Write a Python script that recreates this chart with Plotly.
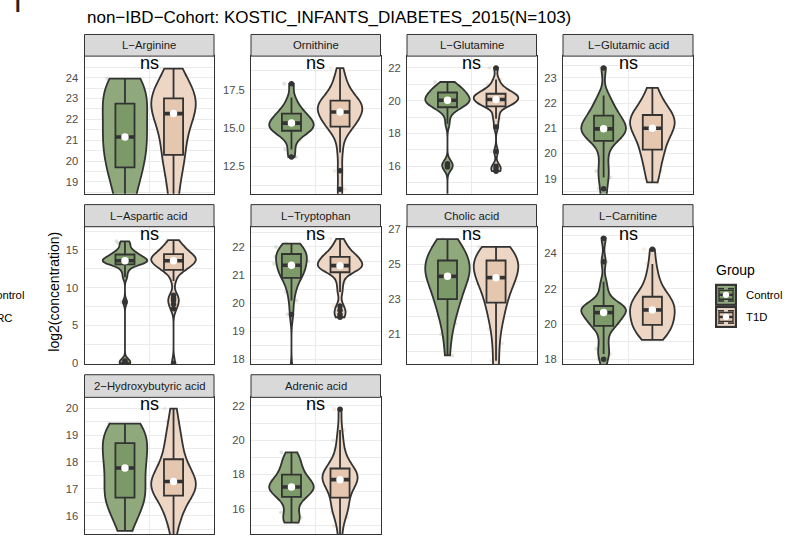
import numpy as np
import plotly.graph_objects as go

# ---------------------------------------------------------------- data
metabolites = ["L−Arginine", "Ornithine", "L−Glutamine", "L−Glutamic acid",
               "L−Aspartic acid", "L−Tryptophan", "Cholic acid", "L−Carnitine",
               "2−Hydroxybutyric acid", "Adrenic acid"]
groups = ["Control", "T1D"]
p_labels = ["ns"] * 10

control_arginine = [16.6, 17.3, 17.9, 18.4, 18.8, 19.2, 19.5, 19.7, 19.8, 20.0, 20.3, 20.6, 20.9,
                    21.05, 21.1, 21.2, 21.4, 21.7, 22.0, 22.3, 22.55, 22.6, 22.75, 23.1, 23.3,
                    23.45, 23.6, 23.7, 23.85, 23.95]
t1d_arginine = [16.5, 17.4, 18.2, 18.9, 19.4, 19.8, 20.1, 20.3, 20.5, 20.8, 21.1, 21.4, 21.7,
                21.95, 22.2, 22.35, 22.45, 22.55, 22.65, 22.75, 22.85, 22.9, 23.0, 23.1, 23.25,
                23.4, 23.6, 23.85, 24.1, 24.43]

control_ornithine = [13.1, 13.6, 14.2, 14.5, 14.7, 14.8, 14.85, 14.9, 15.0, 15.1, 15.2, 15.3,
                     15.35, 15.4, 15.5, 15.6, 15.7, 15.9, 16.0, 16.1, 16.3, 16.6, 17.0, 17.9]
t1d_ornithine = [8.5, 9.8, 11.0, 12.2, 13.4, 14.3, 14.8, 15.1, 15.2, 15.3, 15.4, 15.6, 15.8, 15.9,
                 16.0, 16.1, 16.2, 16.3, 16.4, 16.5, 16.6, 16.7, 16.8, 16.9, 17.1, 17.3, 17.6,
                 17.9, 18.3, 18.93]

control_glutamine = [13.5, 15.95, 16.05, 16.15, 18.6, 19.2, 19.45, 19.6, 19.65, 19.7, 19.8, 19.85,
                     19.9, 19.95, 20.0, 20.05, 20.1, 20.15, 20.2, 20.3, 20.35, 20.4, 20.5, 20.55,
                     20.6, 20.7, 20.8, 20.9, 21.0, 21.14]
t1d_glutamine = [15.7, 15.85, 16.0, 16.9, 18.4, 18.9, 19.2, 19.6, 19.7, 19.75, 19.8, 19.85, 19.9,
                 19.95, 20.0, 20.05, 20.1, 20.15, 20.2, 20.25, 20.3, 20.3, 20.35, 20.4, 20.45,
                 20.5, 20.6, 20.7, 20.8, 21.0, 21.3, 22.0]

control_glutamic = [18.0, 18.6, 19.05, 19.3, 19.7, 20.1, 20.5, 20.6, 20.65, 20.7, 20.8, 20.9, 20.95,
                    21.0, 21.05, 21.1, 21.2, 21.3, 21.4, 21.5, 21.6, 21.7, 21.9, 22.1, 22.3, 23.39]
t1d_glutamic = [18.85, 19.0, 19.3, 19.6, 19.8, 20.0, 20.1, 20.2, 20.4, 20.6, 20.75, 20.85, 20.95,
                21.0, 21.0, 21.1, 21.2, 21.3, 21.4, 21.45, 21.5, 21.55, 21.6, 21.7, 21.9, 22.1,
                22.35, 22.6]

control_aspartic = [0.0, 0.1, 0.3, 8.1, 11.4, 12.2, 12.7, 13.1, 13.15, 13.2, 13.3, 13.4, 13.45,
                    13.5, 13.55, 13.6, 13.7, 13.8, 13.9, 14.0, 14.1, 14.2, 14.4, 14.5, 14.6, 14.8,
                    15.1, 15.5, 15.9, 16.15]
t1d_aspartic = [0.0, 7.2, 7.8, 8.3, 8.6, 9.0, 10.9, 11.8, 12.3, 12.4, 12.6, 12.8, 12.9, 13.0, 13.1,
                13.2, 13.4, 13.55, 13.6, 13.7, 13.8, 13.85, 13.9, 14.0, 14.1, 14.2, 14.4, 14.5,
                14.6, 14.8, 15.0, 15.2, 15.4, 15.7, 16.0, 16.3]

control_tryptophan = [17.5, 19.6, 20.1, 20.4, 20.6, 20.8, 20.9, 21.0, 21.05, 21.1, 21.2, 21.25,
                      21.3, 21.4, 21.45, 21.5, 21.6, 21.65, 21.7, 21.75, 21.8, 21.85, 21.9, 22.0,
                      22.05, 22.12]
t1d_tryptophan = [19.5, 19.6, 19.75, 19.9, 20.4, 20.7, 20.95, 21.1, 21.15, 21.2, 21.25, 21.28,
                  21.3, 21.3, 21.32, 21.35, 21.4, 21.45, 21.5, 21.55, 21.6, 21.6, 21.65, 21.7,
                  21.75, 21.8, 21.9, 22.0, 22.1, 22.29]

control_cholic = [19.8, 21.0, 21.6, 22.1, 22.5, 22.8, 23.0, 23.2, 23.5, 23.8, 24.0, 24.15, 24.25,
                  24.35, 24.5, 24.7, 24.9, 25.0, 25.1, 25.2, 25.4, 25.6, 25.8, 26.0, 26.2, 26.41]
t1d_cholic = [18.5, 19.5, 20.5, 21.3, 21.8, 22.2, 22.5, 22.8, 23.0, 23.3, 23.6, 23.8, 24.0, 24.1,
              24.2, 24.25, 24.4, 24.6, 24.8, 24.9, 25.0, 25.1, 25.2, 25.3, 25.4, 25.5, 25.6,
              25.75, 25.85, 25.98]

control_carnitine = [17.3, 18.0, 18.3, 18.6, 19.0, 19.4, 19.8, 20.0, 20.0, 20.1, 20.2, 20.35, 20.5,
                     20.6, 20.7, 20.75, 20.8, 20.85, 20.9, 20.95, 21.0, 21.05, 21.2, 21.5, 21.9,
                     22.4, 23.54, 24.87]
t1d_carnitine = [19.1, 19.15, 19.3, 19.5, 19.7, 19.8, 19.9, 19.95, 20.0, 20.2, 20.3, 20.45, 20.55,
                 20.65, 20.75, 20.85, 20.95, 21.05, 21.15, 21.25, 21.35, 21.45, 21.55, 21.7, 21.9,
                 22.2, 22.5, 22.9, 23.4, 24.24]

control_hydroxybutyric = [15.44, 15.8, 16.1, 16.4, 16.55, 16.65, 16.7, 16.9, 17.1, 17.3, 17.5, 17.7,
                          17.85, 18.0, 18.2, 18.35, 18.5, 18.6, 18.8, 19.0, 19.15, 19.25, 19.35,
                          19.42]
t1d_hydroxybutyric = [14.8, 15.6, 15.9, 16.1, 16.3, 16.5, 16.65, 16.75, 16.85, 16.95, 17.0, 17.05,
                      17.1, 17.15, 17.25, 17.3, 17.4, 17.5, 17.6, 17.7, 17.8, 17.9, 18.1, 18.3,
                      18.5, 18.7, 18.9, 19.2, 19.5, 19.98]

control_adrenic = [15.2, 15.3, 15.5, 15.8, 16.3, 16.6, 16.8, 16.9, 17.0, 17.1, 17.2, 17.25, 17.3,
                   17.4, 17.5, 17.6, 17.75, 17.9, 18.1, 18.3, 18.5, 18.8, 19.0, 19.29]
t1d_adrenic = [14.2, 15.0, 15.5, 15.8, 16.0, 16.1, 16.2, 16.6, 16.7, 16.9, 17.1, 17.3, 17.45,
               17.55, 17.6, 17.68, 17.72, 17.8, 17.9, 17.95, 18.0, 18.1, 18.2, 18.3, 18.4, 18.6,
               18.8, 19.1, 19.5, 20.0, 20.6, 21.81]

control_values = [control_arginine, control_ornithine, control_glutamine, control_glutamic,
                  control_aspartic, control_tryptophan, control_cholic, control_carnitine,
                  control_hydroxybutyric, control_adrenic]
t1d_values = [t1d_arginine, t1d_ornithine, t1d_glutamine, t1d_glutamic, t1d_aspartic,
              t1d_tryptophan, t1d_cholic, t1d_carnitine, t1d_hydroxybutyric, t1d_adrenic]

# y-axis tick values of each facet
y_ticks = [[19, 20, 21, 22, 23, 24], [12.5, 15.0, 17.5], [16, 18, 20, 22], [19, 20, 21, 22, 23],
           [0, 5, 10, 15], [18, 19, 20, 21, 22], [21, 23, 25, 27], [18, 20, 22, 24],
           [16, 17, 18, 19, 20], [16, 18, 20, 22]]
y_tick_text = [["19", "20", "21", "22", "23", "24"], ["12.5", "15.0", "17.5"],
               ["16", "18", "20", "22"], ["19", "20", "21", "22", "23"],
               ["0", "5", "10", "15"], ["18", "19", "20", "21", "22"],
               ["21", "23", "25", "27"], ["18", "20", "22", "24"],
               ["16", "17", "18", "19", "20"], ["16", "18", "20", "22"]]

# ---------------------------------------------------------------- layout settings
W, H = 797, 541
y_limits = [(18.43, 25.03), (10.70, 19.71), (14.32, 22.72), (18.40, 23.86), (-0.1, 18.08),
            (17.84, 22.72), (19.32, 27.12), (17.74, 25.52), (15.32, 20.40), (14.53, 22.50)]
# facets whose two violins share one density scale (otherwise each fills the slot width)
shared_scale = [False, False, False, False, False, True, False, False, False, True]
col_px = [(84.5, 214.0), (251.0, 380.5), (407.0, 536.5), (563.0, 693.0)]
row_px = [(31.0, 53.0, 193.0), (204.0, 226.5, 366.0), (377.0, 400.0, 539.0)]

FONT = "Liberation Sans, Arial, Helvetica, sans-serif"
DARK = "#333333"
GRID = "#ebebeb"
violin_fill = {"Control": "#8fa97c", "T1D": "#edd6c4"}
box_fill = {"Control": "#7c9a67", "T1D": "#e5c6ae"}
faint = {"Control": "rgba(110,140,95,0.22)", "T1D": "rgba(215,175,145,0.25)"}
x_pos = {"Control": 0.775, "T1D": 1.225}
VIOLIN_GAP = 0.085          # full violin width = 0.45 * (1 - gap)
BOX_FRAC = 0.43
BOX_HALF = 0.45 * (1 - VIOLIN_GAP) * BOX_FRAC / 2


def px_x(px):
    return px / W


def px_y(py):
    return 1 - py / H


def nrd0(v):
    v = np.asarray(v, dtype=float)
    q75, q25 = np.percentile(v, [75, 25])
    lo = min(np.std(v, ddof=1), (q75 - q25) / 1.34)
    if lo <= 0:
        lo = np.std(v, ddof=1)
    return float(0.9 * lo * len(v) ** -0.2)


fig = go.Figure()
layout_axes = {}
shapes = []
annotations = []

for i, name in enumerate(metabolites):
    r, c = divmod(i, 4)
    left, right = col_px[c]
    strip_top, top, bottom = row_px[r]
    xr = "x" if i == 0 else f"x{i + 1}"
    yr = "y" if i == 0 else f"y{i + 1}"
    xkey = "xaxis" if i == 0 else f"xaxis{i + 1}"
    ykey = "yaxis" if i == 0 else f"yaxis{i + 1}"

    series = {"Control": control_values[i], "T1D": t1d_values[i]}

    # faint jittered sample points
    for g in groups:
        fig.add_trace(go.Violin(
            y=series[g], x0=x_pos[g], xaxis=xr, yaxis=yr, name=f"pts-{i}-{g}",
            scalegroup=f"pts-{i}-{g}", spanmode="hard", points="all", jitter=0.85,
            pointpos=0, fillcolor="rgba(0,0,0,0)",
            line=dict(width=0, color="rgba(0,0,0,0)"),
            marker=dict(color=faint[g], size=4, line=dict(width=0)),
            box=dict(visible=False), meanline=dict(visible=False),
            hoverinfo="skip", showlegend=False))

    # violins with inner boxplots and outliers
    for g in groups:
        vals = series[g]
        group_id = f"panel{i}" if shared_scale[i] else f"v-{i}-{g}"
        fig.add_trace(go.Violin(
            y=vals, x0=x_pos[g], xaxis=xr, yaxis=yr, name=g,
            scalegroup=group_id, scalemode="width", spanmode="hard",
            bandwidth=nrd0(vals), side="both",
            fillcolor=violin_fill[g], line=dict(color=DARK, width=1.8),
            box=dict(visible=True, width=BOX_FRAC, fillcolor=box_fill[g],
                     line=dict(color=DARK, width=1.8)),
            meanline=dict(visible=False),
            points="outliers", pointpos=0, jitter=0,
            marker=dict(color=DARK, size=5.5, line=dict(width=0)),
            hoverinfo="skip", showlegend=False))

    # thick median bars and white median points
    mx, my = [], []
    for g in groups:
        m = float(np.median(series[g]))
        mx += [x_pos[g] - BOX_HALF, x_pos[g] + BOX_HALF, None]
        my += [m, m, None]
    fig.add_trace(go.Scatter(x=mx, y=my, xaxis=xr, yaxis=yr, mode="lines",
                             line=dict(color=DARK, width=3.6), hoverinfo="skip",
                             showlegend=False))
    fig.add_trace(go.Scatter(x=[x_pos[g] for g in groups],
                             y=[float(np.median(series[g])) for g in groups],
                             xaxis=xr, yaxis=yr, mode="markers",
                             marker=dict(color="white", size=7.5, line=dict(width=0)),
                             hoverinfo="skip", showlegend=False))

    ticks = y_ticks[i]
    step = ticks[1] - ticks[0]
    layout_axes[xkey] = dict(
        domain=[px_x(left), px_x(right)], anchor=yr, range=[0.4, 1.6],
        tickmode="array", tickvals=[1], showticklabels=False, ticks="",
        showgrid=True, gridcolor=GRID, gridwidth=1, zeroline=False,
        showline=True, linecolor=DARK, linewidth=1, mirror=True, fixedrange=True)
    layout_axes[ykey] = dict(
        domain=[px_y(bottom), px_y(top)], anchor=xr, range=list(y_limits[i]),
        tickmode="array", tickvals=ticks, ticktext=y_tick_text[i],
        ticks="outside", ticklen=3, tickcolor="rgba(0,0,0,0)",
        tickfont=dict(family=FONT, size=11.2, color="#4d4d4d"),
        showgrid=True, gridcolor=GRID, gridwidth=1,
        minor=dict(tick0=ticks[0], dtick=step / 2, showgrid=True, gridcolor=GRID,
                   gridwidth=0.6, ticks=""),
        zeroline=False, showline=True, linecolor=DARK, linewidth=1, mirror=True,
        fixedrange=True)

    # facet strip
    shapes.append(dict(type="rect", xref="paper", yref="paper",
                       x0=px_x(left), x1=px_x(right), y0=px_y(top), y1=px_y(strip_top),
                       fillcolor="#d9d9d9", line=dict(color=DARK, width=1), layer="above"))
    annotations.append(dict(text=name, xref="paper", yref="paper",
                            x=px_x((left + right) / 2), y=px_y((strip_top + top) / 2),
                            xanchor="center", yanchor="middle", showarrow=False,
                            font=dict(family=FONT, size=11.3, color="#1a1a1a")))
    # significance label
    annotations.append(dict(text=p_labels[i], xref="paper", yref="paper",
                            x=px_x((left + right) / 2), y=px_y(top + 7.0),
                            xanchor="center", yanchor="middle", showarrow=False,
                            font=dict(family=FONT, size=18, color="black")))

# title, axis title
annotations.append(dict(text="non−IBD−Cohort: KOSTIC_INFANTS_DIABETES_2015(N=103)",
                        xref="paper", yref="paper", x=px_x(84.5), y=px_y(14),
                        xanchor="left", yanchor="middle", showarrow=False,
                        font=dict(family=FONT, size=17, color="black")))
annotations.append(dict(text="log2(concentration)", xref="paper", yref="paper",
                        x=px_x(54.5), y=px_y(292), textangle=-90,
                        xanchor="center", yanchor="middle", showarrow=False,
                        font=dict(family=FONT, size=14, color="black")))

# neighbouring figure elements at the left edge
annotations.append(dict(text="<b>I</b>", xref="paper", yref="paper",
                        x=px_x(17.5), y=px_y(1), xanchor="center", yanchor="middle",
                        showarrow=False, font=dict(family=FONT, size=20, color="#222222")))
annotations.append(dict(text="Control", xref="paper", yref="paper", x=px_x(25.5),
                        y=px_y(296), xanchor="right", yanchor="middle", showarrow=False,
                        font=dict(family=FONT, size=11.3, color="black")))
annotations.append(dict(text="CRC", xref="paper", yref="paper", x=px_x(13.5),
                        y=px_y(319), xanchor="right", yanchor="middle", showarrow=False,
                        font=dict(family=FONT, size=11.3, color="black")))

# legend
annotations.append(dict(text="Group", xref="paper", yref="paper", x=px_x(714),
                        y=px_y(270.5), xanchor="left", yanchor="middle", showarrow=False,
                        font=dict(family=FONT, size=14, color="black")))
for k, g in enumerate(groups):
    y0 = 284.5 + k * 22.5
    y1 = y0 + 22.5
    x0, x1 = 715.0, 737.0
    cy = (y0 + y1) / 2
    cx = (x0 + x1) / 2
    shapes.append(dict(type="rect", xref="paper", yref="paper", x0=px_x(x0), x1=px_x(x1),
                       y0=px_y(y1), y1=px_y(y0), fillcolor=DARK, line=dict(width=0)))
    shapes.append(dict(type="rect", xref="paper", yref="paper", x0=px_x(x0 + 2.2),
                       x1=px_x(x1 - 2.2), y0=px_y(y1 - 2.2), y1=px_y(y0 + 2.2),
                       fillcolor=violin_fill[g], line=dict(width=0)))
    for yy in (y0 + 5, y1 - 5):
        for xa, xb in ((x0 + 3, cx - 2), (cx + 2, x1 - 3)):
            shapes.append(dict(type="line", xref="paper", yref="paper", x0=px_x(xa),
                               x1=px_x(xb), y0=px_y(yy), y1=px_y(yy),
                               line=dict(color=DARK, width=1.6)))
    shapes.append(dict(type="rect", xref="paper", yref="paper", x0=px_x(x0 + 4),
                       x1=px_x(x1 - 4), y0=px_y(cy + 4.5), y1=px_y(cy - 4.5),
                       fillcolor=box_fill[g], line=dict(color=DARK, width=1.4)))
    shapes.append(dict(type="line", xref="paper", yref="paper", x0=px_x(x0 + 4),
                       x1=px_x(x1 - 4), y0=px_y(cy), y1=px_y(cy),
                       line=dict(color=DARK, width=2.4)))
    shapes.append(dict(type="circle", xref="paper", yref="paper", x0=px_x(cx - 3.2),
                       x1=px_x(cx + 3.2), y0=px_y(cy + 3.2), y1=px_y(cy - 3.2),
                       fillcolor="white", line=dict(width=0)))
    annotations.append(dict(text=g, xref="paper", yref="paper", x=px_x(743.5), y=px_y(cy),
                            xanchor="left", yanchor="middle", showarrow=False,
                            font=dict(family=FONT, size=11.3, color="black")))

fig.update_layout(
    width=W, height=H, margin=dict(l=0, r=0, t=0, b=0, pad=0),
    paper_bgcolor="white", plot_bgcolor="white",
    violinmode="overlay", violingap=VIOLIN_GAP, violingroupgap=0,
    showlegend=False, hovermode=False,
    font=dict(family=FONT), shapes=shapes, annotations=annotations,
    **layout_axes)

fig.write_html("out.html")
